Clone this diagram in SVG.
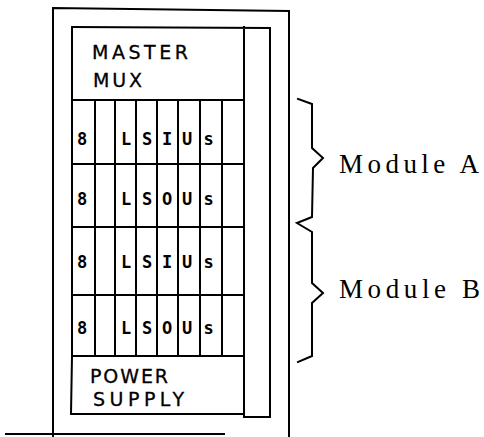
<svg xmlns="http://www.w3.org/2000/svg" width="484" height="437" viewBox="0 0 484 437">
<style>
.ln{fill:none;stroke:#000;stroke-width:2;stroke-linecap:square}
.lbl{font-family:"DejaVu Sans","Liberation Sans",sans-serif;font-size:19px;fill:#000;stroke:#000;stroke-width:0.3}
.cell{font-family:"DejaVu Sans Mono","Liberation Mono",monospace;font-size:17px;fill:#000;font-weight:bold;text-anchor:middle}
.mod{font-family:"Liberation Serif","DejaVu Serif",serif;font-size:27px;fill:#000}
</style>
<rect width="484" height="437" fill="#fff"/>
<g id="cabinet">
<path class="ln" d="M53,436 L53,8 L289,11 L289,437"/>
<path class="ln" d="M6,434 L224,434"/>
</g>
<g id="rack">
<path class="ln" d="M72,27 L270,28 L270,417 L244,417 M244,27 L244,417"/>
</g>
<g id="master-mux">
<path class="ln" d="M72,27 L72,100 L244,100"/>
<text class="lbl" x="92" y="59" textLength="96" lengthAdjust="spacing">MASTER</text>
<text class="lbl" x="93" y="87" textLength="49" lengthAdjust="spacing">MUX</text>
</g>
<g id="lsiu-lsou-rows">
<path class="ln" d="M72,100 L72,357 M95,100 L95,356 M115,100 L115,356 M136,100 L136,356 M157,100 L157,356 M178,100 L178,356 M200,100 L200,356 M222,100 L222,356"/>
<path class="ln" d="M72,164 L244,164 M72,227 L244,227 M72,295 L244,295"/>
<g id="row-1-lsiu">
<text class="cell" x="82" y="145">8</text><text class="cell" x="126" y="145">L</text><text class="cell" x="147" y="145">S</text><text class="cell" x="167" y="145">I</text><text class="cell" x="187" y="145">U</text><text class="cell" x="208.5" y="145">s</text>
</g>
<g id="row-2-lsou">
<text class="cell" x="82" y="205">8</text><text class="cell" x="126" y="205">L</text><text class="cell" x="147" y="205">S</text><text class="cell" x="167" y="205">O</text><text class="cell" x="187" y="205">U</text><text class="cell" x="208.5" y="205">s</text>
</g>
<g id="row-3-lsiu">
<text class="cell" x="82" y="268">8</text><text class="cell" x="126" y="268">L</text><text class="cell" x="147" y="268">S</text><text class="cell" x="167" y="268">I</text><text class="cell" x="187" y="268">U</text><text class="cell" x="208.5" y="268">s</text>
</g>
<g id="row-4-lsou">
<text class="cell" x="82" y="334">8</text><text class="cell" x="126" y="334">L</text><text class="cell" x="147" y="334">S</text><text class="cell" x="167" y="334">O</text><text class="cell" x="187" y="334">U</text><text class="cell" x="208.5" y="334">s</text>
</g>
</g>
<g id="power-supply">
<path class="ln" d="M72,356 L244,356 M72,356 L71,414 L244,414"/>
<text class="lbl" x="90" y="383" textLength="78" lengthAdjust="spacing">POWER</text>
<text class="lbl" x="93" y="406" textLength="91" lengthAdjust="spacing">SUPPLY</text>
</g>
<g id="connectors">
<path class="ln" stroke-linejoin="miter" d="M298,99 L312,104 L312,148 L323,158 L313,168 L312,217 L297,223 L312,232 L312,283 L323,293 L312,303 L312,356 L298,362"/>
</g>
<g id="module-a">
<text class="mod" x="339" y="173" textLength="140" lengthAdjust="spacing">Module A</text>
</g>
<g id="module-b">
<text class="mod" x="339" y="298" textLength="141" lengthAdjust="spacing">Module B</text>
</g>
</svg>
